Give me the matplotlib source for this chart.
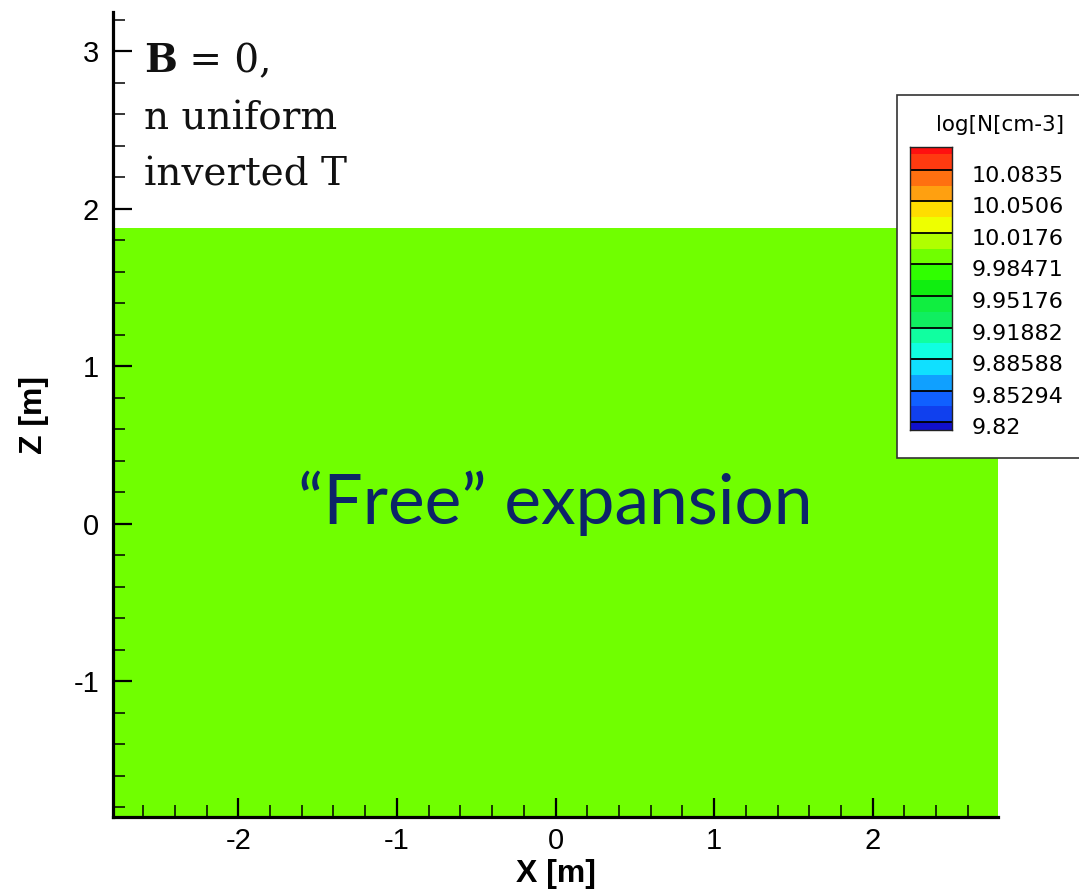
import numpy as np
import matplotlib
matplotlib.use("Agg")
import matplotlib.pyplot as plt
from matplotlib.colors import ListedColormap, BoundaryNorm
from matplotlib.patches import Rectangle
from matplotlib.ticker import MultipleLocator
from matplotlib.transforms import offset_copy

plt.rcParams['axes.unicode_minus'] = False

# domain edges [m] and the (uniform) density field log10(n [cm-3])
x_edges = [-2.79, 2.79]
z_edges = [-1.863, 1.876]
log_n = [[10.0]]

# contour legend levels
cbar_labels = ['9.82', '9.85294', '9.88588', '9.91882', '9.95176',
               '9.98471', '10.0176', '10.0506', '10.0835']
cbar_levels = [float(s) for s in cbar_labels]

# two colour bands per labelled level, bottom -> top
cbar_colors = ['#1010cc', '#1040ee', '#1060ff', '#10a0ff', '#10e0ff',
               '#10ffe0', '#10ffa0', '#10ee60', '#10ee40', '#10ee10',
               '#30ff00', '#70ff00', '#b0ff00', '#eeff00', '#ffdd00',
               '#ffa010', '#ff7010', '#ff3a10', '#ff1010']

x_ticks = [-2, -1, 0, 1, 2]
z_ticks = [-1, 0, 1, 2, 3]

half = (cbar_levels[-1] - cbar_levels[0]) / 16
bounds = cbar_levels[0] + half * np.arange(-1, len(cbar_colors))
cmap = ListedColormap(cbar_colors)
norm = BoundaryNorm(bounds, cmap.N)

W, H = 1079, 892
fig = plt.figure(figsize=(W / 100, H / 100), dpi=100)

def fbox(left, top, right, bottom):
    # pixel box -> figure fraction
    return [left / W, 1 - bottom / H, (right - left) / W, (bottom - top) / H]

ax = fig.add_axes(fbox(113, 12, 998, 817))
ax.pcolormesh(x_edges, z_edges, log_n, cmap=cmap, norm=norm)
ax.set_xlim(-2.79, 2.79)
ax.set_ylim(-1.863, 3.25)

for s in ['top', 'right']:
    ax.spines[s].set_visible(False)
for s in ['left', 'bottom']:
    ax.spines[s].set_linewidth(2.3)

ax.set_xticks(x_ticks)
ax.set_yticks(z_ticks)
ax.xaxis.set_minor_locator(MultipleLocator(0.2))
ax.yaxis.set_minor_locator(MultipleLocator(0.2))
ax.tick_params(which='both', direction='in', top=False, right=False)
ax.tick_params(which='major', length=13.5, width=1.6, labelsize=21, pad=7)
ax.tick_params(which='minor', length=8.5, width=1.1)
ax.tick_params(axis='y', which='major', pad=10)
for lab in ax.get_xticklabels() + ax.get_yticklabels():
    lab.set_family('Liberation Sans')

ax.set_xlabel('X [m]', family='Liberation Sans', weight='bold', fontsize=23)
ax.set_ylabel('Z [m]', family='Liberation Sans', weight='bold', fontsize=23)
ax.xaxis.set_label_coords(0.5, -0.052)
ax.yaxis.set_label_coords(-0.072, 0.5)

ax.text(0, 0, '\u201cFree\u201d expansion', ha='center', va='baseline',
        family='Lato', fontsize=50, color='#0c2468')

# case description, upper left
serif = dict(family='DejaVu Serif', fontsize=28, color='#111111')
tb = fig.text(144 / W, 1 - 72 / H, 'B', weight='bold', va='baseline', **serif)
ax.annotate(' = 0,', xy=(1, 0), xycoords=tb, va='bottom', ha='left', **serif)
fig.text(144 / W, 1 - 129 / H, 'n uniform', va='baseline', **serif)
fig.text(144 / W, 1 - 186 / H, 'inverted T', va='baseline', **serif)

# contour legend box
box = Rectangle((897 / W, 1 - 458 / H), 200 / W, 363 / H, transform=fig.transFigure,
                facecolor='white', edgecolor='#333333', linewidth=1.2, zorder=1)
fig.add_artist(box)

cax = fig.add_axes(fbox(910, 147, 952, 430))
cax.set_zorder(2)
cax.pcolormesh([0, 1], bounds, np.array(bounds[:-1] + half / 2)[:, None],
               cmap=cmap, norm=norm)
for lev in cbar_levels:
    cax.axhline(lev, color='black', linewidth=1.3)
cax.set_xlim(0, 1)
cax.set_ylim(cbar_levels[0] - 0.5 * half, cbar_levels[-1] + 1.45 * half)
cax.set_xticks([])
cax.set_yticks([])
for s in cax.spines.values():
    s.set_linewidth(1.0)
    s.set_color('#222222')

lab_tr = offset_copy(cax.get_yaxis_transform(), fig, x=0, y=-6, units='dots')
for lev, txt in zip(cbar_levels, cbar_labels):
    cax.text((972 - 910) / 42, lev, txt, transform=lab_tr, ha='left', va='center',
             family='DejaVu Sans', fontsize=16, color='black')

# legend title above the bar
title_tr = offset_copy(cax.transAxes, fig, y=22, units='dots')
cax.text((1064 - 910) / 42, 1, 'log[N[cm-3]', transform=title_tr,
         ha='right', va='center', family='DejaVu Sans', fontsize=15.5,
         color='black')

fig.savefig('out.png', dpi=100)
